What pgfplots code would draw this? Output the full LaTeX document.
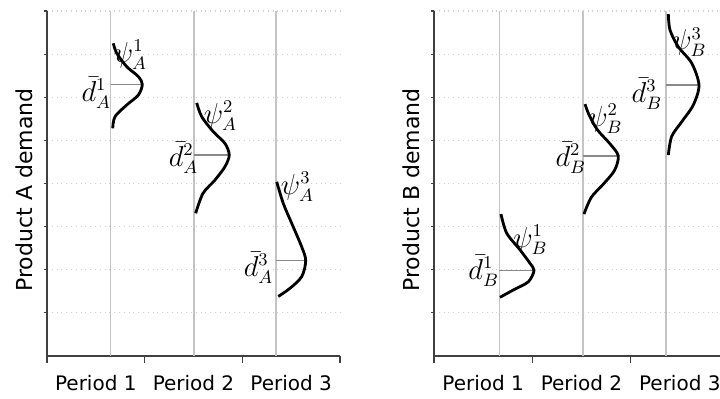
\documentclass[border=0pt]{standalone}
\usepackage{fontspec}
\setmainfont{DejaVu Sans}
\usepackage{pgfplots}
\pgfplotsset{compat=1.18}
\definecolor{gridc}{HTML}{D0D0D0}
\definecolor{vlinec}{HTML}{C4C4C4}
\definecolor{meanc}{HTML}{8A8A8A}
\definecolor{axc}{HTML}{404040}
\pgfplotsset{
 panel/.style={
  scale only axis, height=172.5pt,
  xmin=0, xmax=3, ymin=0, ymax=8,
  axis lines=left, axis line style={-, axc, line width=0.75pt},
  xtick={0,1,2,3}, x tick label as interval,
  xticklabels={Period 1,Period 2,Period 3},
  ytick={1,2,3,4,5,6,7,8}, yticklabels={},
  tick align=outside,
  xtick style={axc, line width=0.6pt, /pgfplots/major tick length=3.5pt},
  ytick style={axc, line width=0.6pt, /pgfplots/major tick length=1.5pt},
  ymajorgrids, major grid style={gridc, dotted, line width=0.6pt},
  tick label style={font=\fontsize{10}{12}\selectfont},
  xticklabel style={yshift=-2pt},
  label style={font=\fontsize{11}{13}\selectfont},
  ylabel style={at={(axis description cs:-0.0785,0.481)}, anchor=center},
  clip=false,
 },
}
\tikzset{
 vl/.style={vlinec, line width=0.7pt},
 ml/.style={meanc, line width=0.8pt},
 cu/.style={black, line width=1.4pt, smooth},
 lab/.style={font=\fontsize{13.5}{16}\selectfont, inner sep=0pt},
}
\begin{document}
\begin{tikzpicture}
\path[use as bounding box] (0,0) rectangle (360pt,199.5pt);
\clip (0,0) rectangle (360pt,199.5pt);
% Panel A
\begin{axis}[panel, width=146.5pt, at={(23.5pt,21.5pt)}, anchor=south west, ylabel={Product A demand}]
\addplot[vl] coordinates {(0.652,0) (0.652,8)};
\addplot[vl] coordinates {(1.505,0) (1.505,8)};
\addplot[vl] coordinates {(2.345,0) (2.345,8)};
\addplot[ml] coordinates {(0.652,6.30) (0.976,6.30)};
\addplot[ml] coordinates {(1.505,4.66) (1.866,4.66)};
\addplot[ml] coordinates {(2.345,2.21) (2.649,2.21)};
\addplot[cu] coordinates {(0.679,7.25) (0.714,7.02) (0.816,6.71) (0.935,6.48) (0.976,6.30) (0.935,6.05) (0.816,5.82) (0.696,5.55) (0.673,5.28)};
\addplot[cu] coordinates {(1.533,5.87) (1.584,5.55) (1.703,5.20) (1.822,4.93) (1.866,4.66) (1.822,4.39) (1.720,4.08) (1.597,3.77) (1.522,3.31)};
\addplot[cu] coordinates {(2.352,4.04) (2.419,3.54) (2.505,3.08) (2.608,2.53) (2.649,2.21) (2.608,1.84) (2.488,1.57) (2.368,1.38)};
\node[lab] at (axis cs:0.855,6.98) {$\psi_A^1$};
\node[lab] at (axis cs:0.505,6.10) {$\bar{d}_A^1$};
\node[lab] at (axis cs:1.776,5.57) {$\psi_A^2$};
\node[lab] at (axis cs:1.398,4.59) {$\bar{d}_A^2$};
\node[lab] at (axis cs:2.565,3.92) {$\psi_A^3$};
\node[lab] at (axis cs:2.166,2.04) {$\bar{d}_A^3$};
\end{axis}
% Panel B
\begin{axis}[panel, width=147.5pt, at={(217pt,21.5pt)}, anchor=south west, ylabel={Product B demand}]
\addplot[vl] coordinates {(0.664,0) (0.664,8)};
\addplot[vl] coordinates {(1.515,0) (1.515,8)};
\addplot[vl] coordinates {(2.359,0) (2.359,8)};
\addplot[ml] coordinates {(0.664,1.98) (1.017,1.98)};
\addplot[ml] coordinates {(1.515,4.64) (1.874,4.64)};
\addplot[ml] coordinates {(2.359,6.28) (2.695,6.28)};
\addplot[cu] coordinates {(0.681,3.29) (0.739,2.85) (0.875,2.46) (0.976,2.15) (1.017,1.98) (0.959,1.72) (0.806,1.53) (0.671,1.36)};
\addplot[cu] coordinates {(1.536,5.84) (1.575,5.60) (1.660,5.25) (1.790,4.92) (1.874,4.64) (1.835,4.30) (1.720,3.98) (1.600,3.68) (1.525,3.29)};
\addplot[cu] coordinates {(2.383,7.93) (2.400,7.56) (2.484,7.17) (2.621,6.79) (2.695,6.28) (2.637,5.82) (2.519,5.43) (2.417,5.09) (2.383,4.66)};
\node[lab] at (axis cs:0.981,2.69) {$\psi_B^1$};
\node[lab] at (axis cs:0.505,1.97) {$\bar{d}_B^1$};
\node[lab] at (axis cs:1.744,5.50) {$\psi_B^2$};
\node[lab] at (axis cs:1.391,4.59) {$\bar{d}_B^2$};
\node[lab] at (axis cs:2.598,7.28) {$\psi_B^3$};
\node[lab] at (axis cs:2.166,6.08) {$\bar{d}_B^3$};
\end{axis}
\end{tikzpicture}
\end{document}
